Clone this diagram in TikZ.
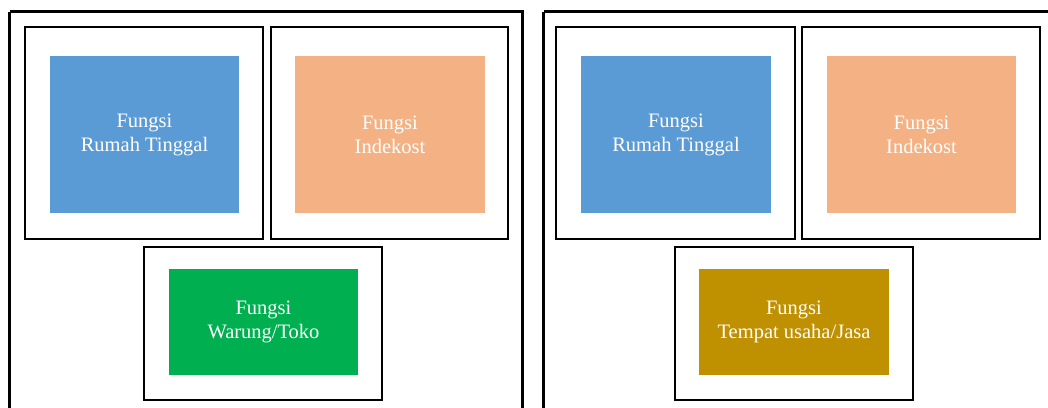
\documentclass[tikz,border=0pt]{standalone}
\usepackage{fontspec}
\setmainfont{Liberation Serif}
\definecolor{cblue}{HTML}{5B9BD5}
\definecolor{corange}{HTML}{F4B183}
\definecolor{cgreen}{HTML}{00B050}
\definecolor{cgold}{HTML}{BF9000}
\tikzset{
  frame/.style={draw=black, line width=3pt},
  holder/.style={draw=black, line width=2.2pt, fill=white},
  fn/.style={rectangle, inner sep=0pt, text=white, align=center,
    font=\fontsize{20.5}{24}\selectfont},
}
\begin{document}
\begin{tikzpicture}[x=1pt, y=-1pt]
\useasboundingbox (0,0) rectangle (1048,407);
\clip (0,0) rectangle (1048,407);
% outer panels
\draw[frame] (9.5,11.5) -- (9.5,420) (9.5,11.5) -- (522.5,11.5) -- (522.5,420);
\draw[frame] (543.5,11.5) -- (543.5,420) (543.5,11.5) -- (1060,11.5);
% left panel holders
\draw[holder] (25,27) rectangle (263,239);
\draw[holder] (271,27) rectangle (508,239);
\draw[holder] (144,247) rectangle (382,400);
% right panel holders
\draw[holder] (556,27) rectangle (795,239);
\draw[holder] (802,27) rectangle (1040,239);
\draw[holder] (675,247) rectangle (913,400);
% function blocks, left
\node[fn, fill=cblue, minimum width=189pt, minimum height=157pt] (rt1) at (144.5,134.5) {Fungsi\\Rumah Tinggal};
\node[fn, fill=corange, minimum width=190pt, minimum height=157pt] (ik1) at (390,134.5) {Fungsi\\Indekost};
\node[fn, fill=cgreen, minimum width=189pt, minimum height=106pt] (wt) at (263.5,322) {Fungsi\\Warung/Toko};
% function blocks, right
\node[fn, fill=cblue, minimum width=190pt, minimum height=157pt] (rt2) at (676,134.5) {Fungsi\\Rumah Tinggal};
\node[fn, fill=corange, minimum width=189pt, minimum height=157pt] (ik2) at (921.5,134.5) {Fungsi\\Indekost};
\node[fn, fill=cgold, minimum width=190pt, minimum height=106pt] (tu) at (794,322) {Fungsi\\Tempat usaha/Jasa};
\end{tikzpicture}
\end{document}
